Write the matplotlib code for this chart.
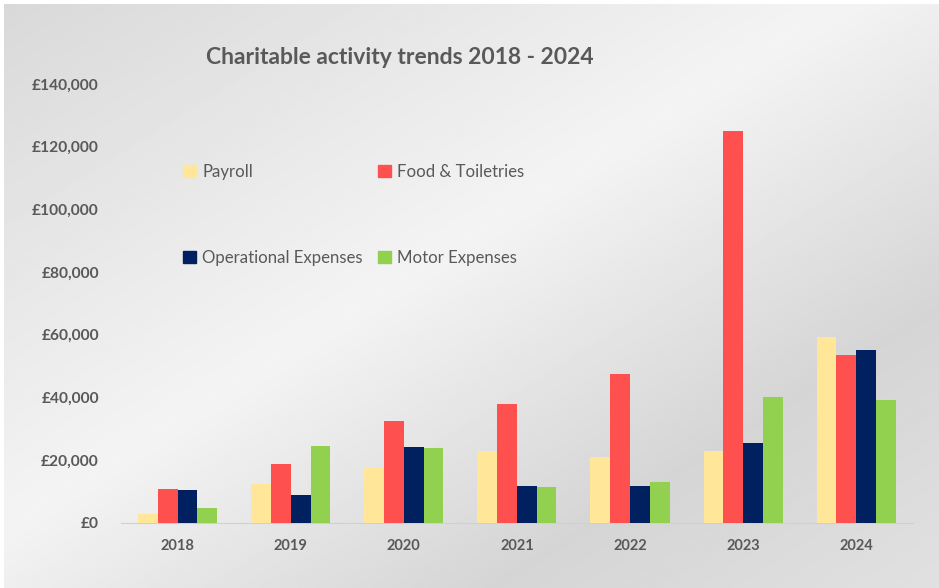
import numpy as np
import matplotlib.pyplot as plt
from matplotlib.patches import Patch
from matplotlib.ticker import FuncFormatter

# data
years = ["2018", "2019", "2020", "2021", "2022", "2023", "2024"]
payroll = [2800, 12500, 17500, 22900, 21000, 23000, 59300]
food_toiletries = [10700, 18800, 32400, 38000, 47500, 124900, 53500]
operational = [10400, 9000, 24300, 11800, 11800, 25400, 55200]
motor = [4700, 24500, 23800, 11300, 13100, 40100, 39300]

series = [
    ("Payroll", payroll, "#FFE699"),
    ("Food & Toiletries", food_toiletries, "#FF5050"),
    ("Operational Expenses", operational, "#002060"),
    ("Motor Expenses", motor, "#92D050"),
]

plt.rcParams['font.family'] = ['Lato', 'DejaVu Sans']
txt = "#595959"

fig = plt.figure(figsize=(9.39, 5.88), dpi=100, facecolor="white")

# gray diagonal gradient background (dark top-left, light band, dark band, mid bottom-right)
bg = fig.add_axes([0.004, 0, 0.996, 0.994], zorder=-10)
yy, xx = np.mgrid[0:1:300j, 0:1:480j]
d = (xx + yy) / 2
val = np.interp(d, [0, 0.45, 0.76, 1.0], [0.85, 0.955, 0.835, 0.88])
bg.imshow(val, cmap="gray", vmin=0, vmax=1, aspect="auto", extent=[0, 1, 0, 1], origin="upper")
bg.axis("off")

ax = fig.add_axes([0.129, 0.111, 0.843, 0.746])
ax.patch.set_alpha(0)

x = np.arange(len(years))
w = 0.175
for i, (name, vals, col) in enumerate(series):
    ax.bar(x + (i - 1.5) * w, vals, width=w, color=col, label=name, zorder=3)

ax.set_xlim(-0.5, len(years) - 0.5)
ax.set_ylim(0, 140000)
ax.set_yticks(np.arange(0, 140001, 20000))
ax.yaxis.set_major_formatter(FuncFormatter(lambda v, p: "£{:,.0f}".format(v)))
ax.set_xticks(x)
ax.set_xticklabels(years)

for s in ["top", "right", "left"]:
    ax.spines[s].set_visible(False)
ax.spines["bottom"].set_color("#d0d0d0")
ax.tick_params(axis="both", length=0, colors=txt)
ax.tick_params(axis="x", pad=12, labelsize=10.5)
ax.tick_params(axis="y", pad=16, labelsize=11.2)
for lab in ax.get_xticklabels() + ax.get_yticklabels():
    lab.set_fontweight("bold")

fig.text(0.426, 0.902, "Charitable activity trends 2018 - 2024", ha="center", va="center",
         fontsize=16.5, fontweight="bold", color=txt)

# legend: two columns, wide row spacing
order = [0, 2, 1, 3]
handles = [Patch(color=series[i][2]) for i in order]
labels = [series[i][0] for i in order]
leg = ax.legend(handles, labels, ncol=2, frameon=False, loc="upper left",
                bbox_to_anchor=(0.059, 0.853), labelspacing=4.17, columnspacing=0.9,
                handlelength=0.75, handleheight=0.75, handletextpad=0.4, fontsize=12.1)
for t in leg.get_texts():
    t.set_color(txt)

fig.savefig("out.png", dpi=100)
